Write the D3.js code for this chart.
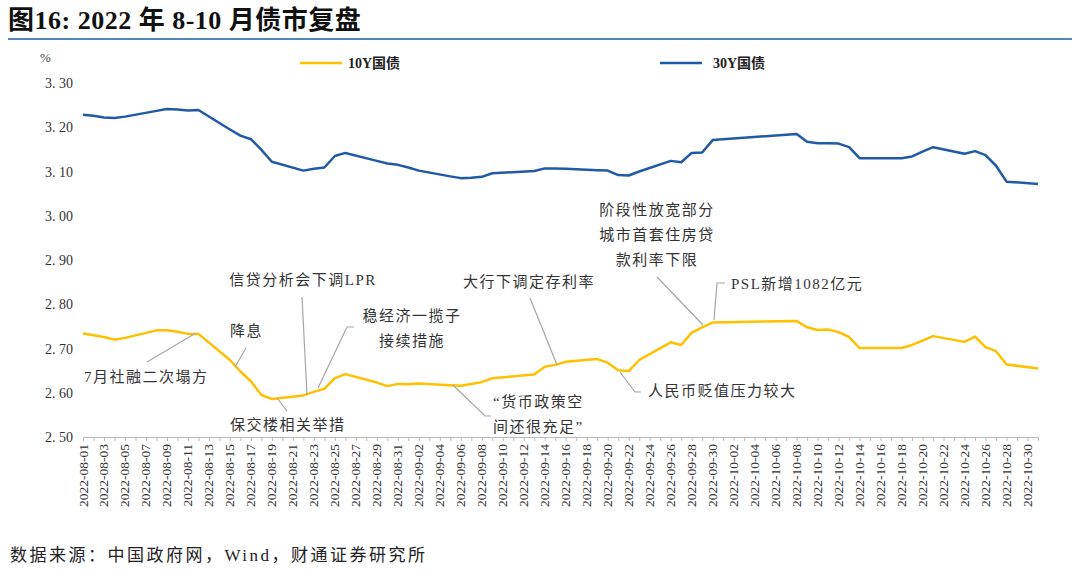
<!DOCTYPE html>
<html><head><meta charset="utf-8">
<script src="https://cdn.jsdelivr.net/npm/d3@7"></script>
<style>body{margin:0;background:#fff}</style></head>
<body><svg id="c" width="1080" height="572"></svg>
<script>
// trading days
var dates = ["08-01","08-02","08-03","08-04","08-05","08-08","08-09","08-10","08-11","08-12",
  "08-15","08-16","08-17","08-18","08-19","08-22","08-23","08-24","08-25","08-26",
  "08-29","08-30","08-31","09-01","09-02","09-05","09-06","09-07","09-08","09-09",
  "09-13","09-14","09-15","09-16","09-19","09-20","09-21","09-22","09-23",
  "09-26","09-27","09-28","09-29","09-30","10-08","10-09","10-10","10-11","10-12","10-13","10-14",
  "10-17","10-18","10-19","10-20","10-21","10-24","10-25","10-26","10-27","10-28","10-31"];
var y10 = [2.734,2.730,2.726,2.720,2.724,2.741,2.741,2.738,2.733,2.733,
  2.674,2.648,2.626,2.595,2.586,2.594,2.602,2.609,2.633,2.642,
  2.623,2.615,2.620,2.619,2.621,2.617,2.616,2.620,2.624,2.633,
  2.641,2.659,2.663,2.670,2.676,2.668,2.651,2.649,2.674,
  2.714,2.708,2.736,2.748,2.759,2.762,2.748,2.742,2.743,2.737,2.726,2.701,
  2.701,2.701,2.708,2.718,2.728,2.715,2.727,2.703,2.694,2.664,2.655];
var y30 = [3.228,3.226,3.222,3.221,3.224,3.237,3.241,3.240,3.238,3.239,
  3.195,3.181,3.173,3.149,3.122,3.102,3.106,3.109,3.135,3.142,
  3.124,3.118,3.115,3.109,3.102,3.089,3.085,3.086,3.088,3.096,
  3.101,3.107,3.107,3.106,3.103,3.102,3.092,3.091,3.100,
  3.124,3.121,3.142,3.143,3.171,3.185,3.167,3.164,3.164,3.163,3.155,3.130,
  3.130,3.130,3.134,3.145,3.155,3.140,3.146,3.137,3.113,3.077,3.072];
var yTicks = [2.5,2.6,2.7,2.8,2.9,3.0,3.1,3.2,3.3];
var seriesNames = ["10Y国债","30Y国债"];
var colors = ["#FFC000","#1F5AA6"];
// annotations: text lines [x,y,anchor,text], leader polyline
var notes = [
  {t:[[84,382,"start","7月社融二次塌方"]], l:[[147,362],[196,333]]},
  {t:[[230,336,"start","降息"]], l:[[235,367],[246,348]]},
  {t:[[303,285,"middle","信贷分析会下调LPR"]], l:[[302,297],[307,395]]},
  {t:[[412,321,"middle","稳经济一揽子"],[412,346,"middle","接续措施"]], l:[[318,388],[347,327],[354,327]]},
  {t:[[230,430,"start","保交楼相关举措"]], l:[[277,398],[287,411]]},
  {t:[[463,287,"start","大行下调定存利率"]], l:[[530,298],[557,365]]},
  {t:[[493,407,"start","“货币政策空"],[493,432,"start","间还很充足”"]], l:[[453,385],[485,416],[491,416]]},
  {t:[[648,396,"start","人民币贬值压力较大"]], l:[[620,372],[635,392],[641,392]]},
  {t:[[657,215,"middle","阶段性放宽部分"],[657,240,"middle","城市首套住房贷"],[657,265,"middle","款利率下限"]], l:[[657,277],[703,325]]},
  {t:[[731,289,"start","PSL新增1082亿元"]], l:[[714,320],[717,283],[725,283]]}
];

var font = "'Liberation Serif','Noto Sans CJK SC',serif";
var svg = d3.select("#c").style("font-family", font);
var parse = function(s){ return new Date(2022, +s.slice(0,2)-1, +s.slice(3)); };
var x = d3.scaleTime().domain([new Date(2022,7,1), new Date(2022,9,31)]).range([83,1038]);
var y = d3.scaleLinear().domain([2.5,3.3]).range([437,83]);

svg.append("text").attr("x",8).attr("y",29).attr("font-size",26).attr("font-weight","bold")
  .attr("letter-spacing",0.5).attr("fill","#111").text("图16: 2022 年 8-10 月债市复盘");
svg.append("line").attr("x1",8).attr("x2",1072).attr("y1",39).attr("y2",39).attr("stroke","#1F5AA6").attr("stroke-width",1.5);

svg.append("text").attr("x",40).attr("y",62).attr("font-size",13).attr("fill","#444").text("%");
svg.selectAll(".yt").data(yTicks).enter().append("text")
  .attr("x",73).attr("y",function(d){return y(d)+5;}).attr("text-anchor","end")
  .attr("font-size",14).attr("fill","#333").text(function(d){return d.toFixed(2).replace(".",". ");});

// x axis
var ticks = d3.timeDay.range(new Date(2022,7,1), new Date(2022,9,31)).filter(function(d,i){return i%2===0;});
var xa = d3.axisBottom(x).tickValues(d3.timeDay.range(new Date(2022,7,1), new Date(2022,10,1)))
  .tickSize(4).tickFormat("");
svg.append("g").attr("transform","translate(0,437)").call(xa)
  .call(function(g){ g.selectAll("line,path").attr("stroke","#bbb"); });
svg.selectAll(".xt").data(ticks).enter().append("text")
  .attr("transform",function(d){return "translate("+(x(d)+4.5)+",444) rotate(-90)";})
  .attr("text-anchor","end").attr("font-size",13.5).attr("fill","#333")
  .text(d3.timeFormat("%Y-%m-%d"));

var line = d3.line().x(function(d){return x(parse(d[0]));}).y(function(d){return y(d[1]);});
[y10,y30].forEach(function(s,k){
  svg.append("path").datum(d3.zip(dates,s)).attr("d",line).attr("fill","none")
    .attr("stroke",colors[k]).attr("stroke-width",2.5).attr("stroke-linejoin","round");
});

// legend
[[300,348],[660,713]].forEach(function(p,k){
  svg.append("line").attr("x1",p[0]).attr("x2",p[0]+42).attr("y1",63).attr("y2",63)
    .attr("stroke",colors[k]).attr("stroke-width",2.5);
  svg.append("text").attr("x",p[1]).attr("y",68).attr("font-size",14).attr("font-weight","bold")
    .attr("fill","#222").text(seriesNames[k]);
});

// annotations
notes.forEach(function(n){
  svg.append("path").attr("d",d3.line()(n.l)).attr("fill","none").attr("stroke","#a6a6a6").attr("stroke-width",1.2);
  n.t.forEach(function(t){
    svg.append("text").attr("x",t[0]).attr("y",t[1]).attr("text-anchor",t[2])
      .attr("font-size",15).attr("letter-spacing",1.5).attr("fill","#333").text(t[3]);
  });
});

svg.append("text").attr("x",10).attr("y",561).attr("font-size",17).attr("letter-spacing",2.5).attr("fill","#222")
  .text("数据来源：中国政府网，Wind，财通证券研究所");
</script></body></html>
